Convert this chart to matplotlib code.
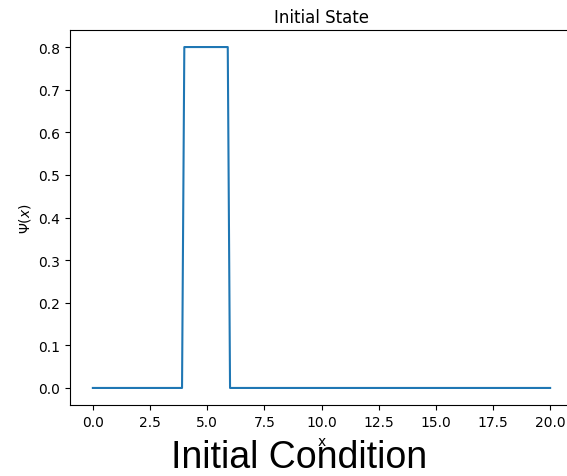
import numpy as np
import matplotlib
matplotlib.use("Agg")
import matplotlib.pyplot as plt

# square pulse sampled on the grid (only the break points are needed)
x_pts = [0.0, 3.9, 4.0, 5.9, 6.0, 20.0]
psi_pts = [0.0, 0.0, 0.8, 0.8, 0.0, 0.0]

fig = plt.figure(figsize=(5.67, 4.77), dpi=100)
W, H = 567, 477
left, right, top, bottom = 70, 573, 31, 406
ax = fig.add_axes([left / W, 1 - bottom / H, (right - left) / W, (bottom - top) / H])

ax.plot(x_pts, psi_pts, color="tab:blue", lw=1.5)
ax.set_title("Initial State")
ax.set_xlabel("x")
ax.set_ylabel(r"$\Psi(x)$")
ax.set_xticks(np.arange(0, 20.1, 2.5))
ax.set_yticks(np.arange(0, 0.81, 0.1))

# caption drawn over the bottom of the figure
fig.text(299 / W, 1 - 458 / H, "Initial Condition", fontsize=27,
         family="Liberation Sans", ha="center", va="center", zorder=10)

fig.savefig("out.png", dpi=100)
